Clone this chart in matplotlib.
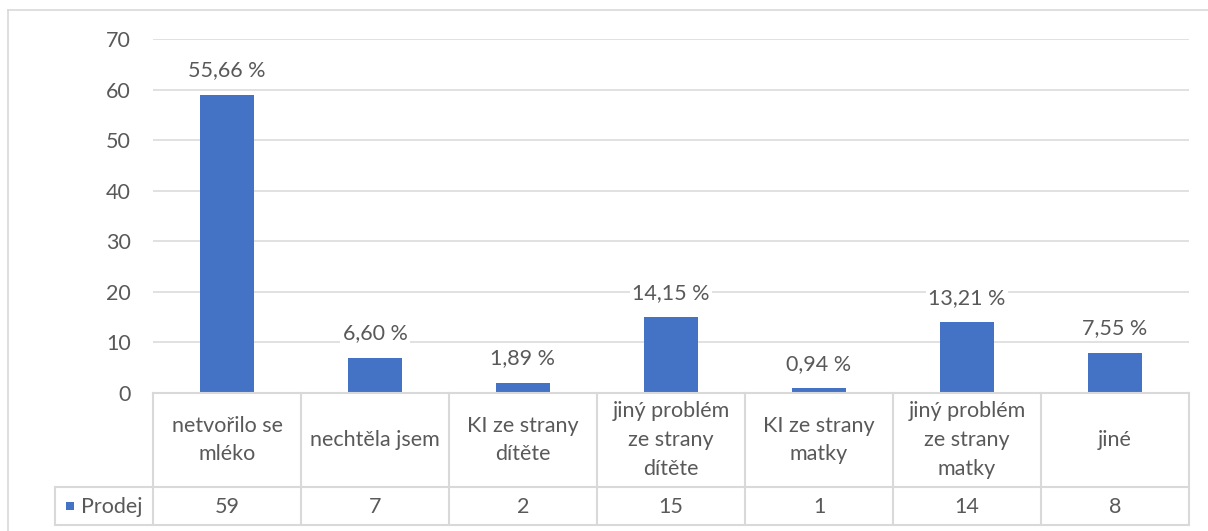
import matplotlib
matplotlib.use("Agg")
import matplotlib.pyplot as plt
from matplotlib.patches import Rectangle
from matplotlib.lines import Line2D

# Data
categories = [
    "netvořilo se\nmléko",
    "nechtěla jsem",
    "KI ze strany\ndítěte",
    "jiný problém\nze strany\ndítěte",
    "KI ze strany\nmatky",
    "jiný problém\nze strany\nmatky",
    "jiné",
]
counts = [59, 7, 2, 15, 1, 14, 8]
series_name = "Prodej"
y_ticks = [0, 10, 20, 30, 40, 50, 60, 70]

total = sum(counts)
pct_labels = [f"{c / total * 100:.2f} %".replace(".", ",") for c in counts]

# Styling
W, H, DPI = 1208, 531, 100
BAR = "#4472C4"
GRID = "#D9D9D9"
TXT = "#595959"
FONT = "Lato"
FS = 15.5

plt.rcParams["font.family"] = [FONT, "DejaVu Sans"]

fig = plt.figure(figsize=(W / DPI, H / DPI), dpi=DPI)

# pixel helpers (top-left origin)
def fx(px):
    return px / W

def fy(py):
    return 1 - py / H

# outer chart frame
fig.add_artist(Line2D([fx(8), fx(1208)], [fy(10), fy(10)], color=GRID, lw=1.2))
fig.add_artist(Line2D([fx(8), fx(8)], [fy(10), fy(531)], color=GRID, lw=1.2))

left, right, top, bottom = 153, 1189, 39, 393
ax = fig.add_axes([fx(left), fy(bottom), fx(right - left), (bottom - top) / H])

n = len(categories)
x = list(range(n))
bars = ax.bar(x, counts, width=0.37, color=BAR, zorder=3)

ax.set_xlim(-0.5, n - 0.5)
ax.set_ylim(0, 70)
ax.set_yticks(y_ticks)
ax.set_yticklabels([str(v) for v in y_ticks], fontsize=FS, color=TXT)
ax.tick_params(axis="y", length=0, pad=16)
ax.set_xticks([])
for s in ax.spines.values():
    s.set_visible(False)
for v in y_ticks[1:]:
    ax.axhline(v, color=GRID, lw=1.1, zorder=1)

# percentage labels above bars
for xi, c, lab in zip(x, counts, pct_labels):
    ax.annotate(lab, (xi, c), xytext=(0, 17.5), textcoords="offset points",
                ha="center", va="center", fontsize=FS, color=TXT, zorder=4,
                bbox=dict(facecolor="white", edgecolor="none", pad=1.5))

# data table below the plot
cell_w = (right - left) / n
row1_bottom = 487
row2_bottom = 525
legend_left = 55

def hline(y, x0, x1):
    fig.add_artist(Line2D([fx(x0), fx(x1)], [fy(y), fy(y)], color=GRID, lw=1.5))

def vline(xp, y0, y1):
    fig.add_artist(Line2D([fx(xp), fx(xp)], [fy(y0), fy(y1)], color=GRID, lw=1.5))

hline(bottom, left, right)
hline(row1_bottom, legend_left, right)
hline(row2_bottom, legend_left, right)
for k in range(n + 1):
    vline(left + k * cell_w, bottom, row2_bottom)
vline(legend_left, row1_bottom, row2_bottom)

for k, (cat, c) in enumerate(zip(categories, counts)):
    cx = left + (k + 0.5) * cell_w
    fig.text(fx(cx), fy((bottom + row1_bottom) / 2), cat, ha="center", va="center",
             fontsize=FS, color=TXT, linespacing=1.55)
    fig.text(fx(cx), fy((row1_bottom + row2_bottom) / 2 + 1), str(c), ha="center",
             va="center", fontsize=FS, color=TXT)

# legend key in the table
fig.add_artist(Rectangle((fx(66), fy(510)), fx(8), 8 / H, facecolor=BAR, edgecolor="none"))
fig.text(fx(81), fy((row1_bottom + row2_bottom) / 2 + 1), series_name, ha="left",
         va="center", fontsize=FS, color=TXT)

fig.savefig("out.png", dpi=DPI, facecolor="white")
